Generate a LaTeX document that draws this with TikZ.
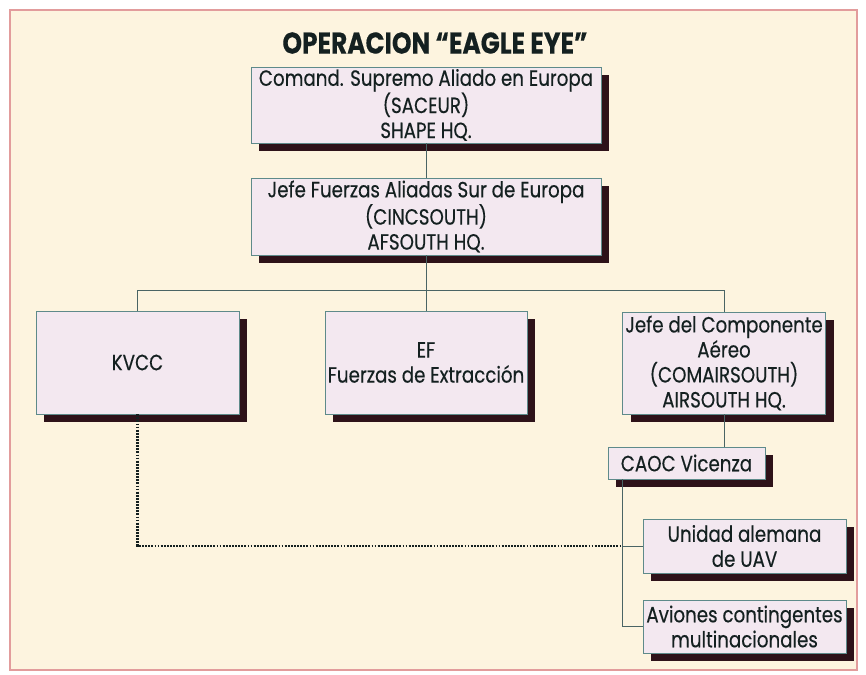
\documentclass[tikz,border=0pt]{standalone}
\usepackage{fontspec}
\setmainfont{Poppins}[FakeStretch=0.83,FakeBold=0.35]
\usepackage{tikz}
\usetikzlibrary{shadows}
\definecolor{cream}{HTML}{FDF4DF}
\definecolor{framered}{HTML}{E29C9C}
\definecolor{boxfill}{HTML}{F3E8F0}
\definecolor{boxline}{HTML}{5E8A8A}
\definecolor{shade}{HTML}{2E1219}
\definecolor{wire}{HTML}{4A6464}
\definecolor{ink}{HTML}{142020}
\begin{document}
\begin{tikzpicture}
[x=1pt,y=-1pt,
org/.style 2 args={draw=boxline,fill=boxfill,thin,align=center,inner sep=2pt,
  minimum width=#1,minimum height=#2,text=ink,font=\fontsize{22}{25}\selectfont,
  drop shadow={shadow xshift=8pt,shadow yshift=-8pt,fill=shade,opacity=1}},
wire/.style={draw=wire,thin},
dots/.style={draw=ink,line width=2.4pt,dash pattern=on 1.8pt off 1.3pt}]
\useasboundingbox[fill=white] (0,0) rectangle (866,674);
\draw[framered,fill=cream,line width=1.2pt] (10,10) rectangle (857,670);
\node (title) at (435,43) {\fontsize{30}{32}\selectfont\bfseries\color{ink}OPERACION ``EAGLE EYE''};
\node[org={350pt}{76pt}] (saceur) at (426,105) {Comand. Supremo Aliado en Europa\\(SACEUR)\\SHAPE HQ.};
\node[org={350pt}{77pt}] (cinc) at (426,216.5) {Jefe Fuerzas Aliadas Sur de Europa\\(CINCSOUTH)\\AFSOUTH HQ.};
\node[org={203pt}{103pt}] (kvcc) at (137.5,362.5) {KVCC};
\node[org={202pt}{103pt}] (ef) at (426,362.5) {EF\\Fuerzas de Extracción};
\node[org={203pt}{102pt}] (jefe) at (724,363) {Jefe del Componente\\Aéreo\\(COMAIRSOUTH)\\AIRSOUTH HQ.};
\node[org={157pt}{32pt}] (caoc) at (686.5,463) {CAOC Vicenza};
\node[org={203pt}{54pt}] (uav) at (744.5,546) {Unidad alemana\\de UAV};
\node[org={203pt}{53pt}] (avion) at (744.5,626.5) {Aviones contingentes\\multinacionales};
\coordinate (bus) at (426,290);
\coordinate (split) at ([xshift=14pt]caoc.south west);
\draw[wire] (saceur.south) -- (cinc.north);
\draw[wire] (cinc.south) -- (ef.north);
\draw[wire] (kvcc.north) |- (jefe.north |- bus) -- (jefe.north);
\draw[wire] (jefe.south) -- (jefe.south |- caoc.north);
\draw[wire] (split) |- (avion.west);
\draw[wire] (split |- uav.west) -- (uav.west);
\draw[dots] (kvcc.south) |- (split |- uav.west);
\end{tikzpicture}
\end{document}
